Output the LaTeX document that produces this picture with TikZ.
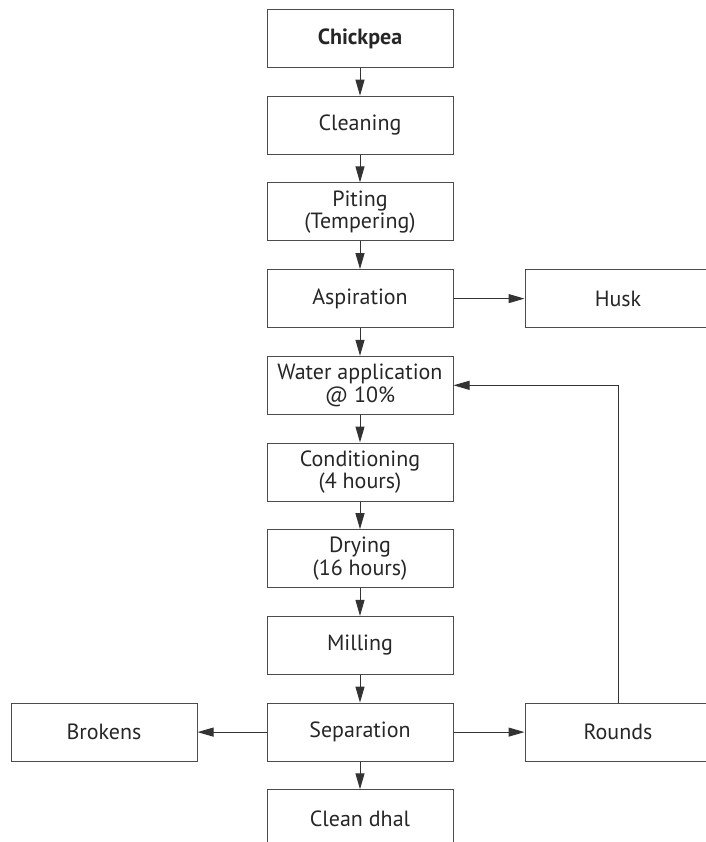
\documentclass[tikz,border=0pt]{standalone}
\usepackage{fontspec}
\setmainfont{PT Sans}
\usetikzlibrary{arrows.meta, positioning}

\begin{document}
\begin{tikzpicture}[
  x=0.5pt, y=-0.5pt,
  every node/.style={font=\fontsize{11pt}{11.2pt}\selectfont, text=black!85},
  stage/.style={draw=black!70, line width=0.5pt, minimum width=93pt,
                minimum height=29pt, align=center, inner sep=1pt},
  arr/.style={draw=black!80, line width=0.5pt,
              -{Triangle[length=8pt, width=4.5pt]}},
  node distance=13.85pt and 35.5pt,
]
  \useasboundingbox (0,0) rectangle (706,842);
  \clip (0,0) rectangle (706,842);

  % Main column
  \node[stage, font=\fontsize{11pt}{11.2pt}\selectfont\bfseries] (chickpea) at (360,38.5) {Chickpea};
  \node[stage, below=of chickpea] (cleaning) {Cleaning};
  \node[stage, below=of cleaning] (piting) {Piting\\(Tempering)};
  \node[stage, below=of piting] (aspiration) {Aspiration};
  \node[stage, below=of aspiration] (water) {Water application\\@ 10\%};
  \node[stage, below=of water] (conditioning) {Conditioning\\(4 hours)};
  \node[stage, below=of conditioning] (drying) {Drying\\(16 hours)};
  \node[stage, below=of drying] (milling) {Milling};
  \node[stage, below=of milling] (separation) {Separation};
  \node[stage, below=of separation] (dhal) {Clean dhal};

  % Side outputs
  \node[stage, right=of aspiration] (husk) {Husk};
  \node[stage, left=34.5pt of separation] (brokens) {Brokens};
  \node[stage, right=of separation] (rounds) {Rounds};

  % Flow
  \foreach \a/\b in {chickpea/cleaning, cleaning/piting, piting/aspiration,
                     aspiration/water, water/conditioning, conditioning/drying,
                     drying/milling, milling/separation, separation/dhal}
    \draw[arr] (\a) -- (\b);
  \draw[arr] (aspiration) -- (husk);
  \draw[arr] (separation) -- (brokens);
  \draw[arr] (separation) -- (rounds);

  % Rounds go back to water application
  \draw[arr] (rounds.north) |- (water.east);
\end{tikzpicture}
\end{document}
